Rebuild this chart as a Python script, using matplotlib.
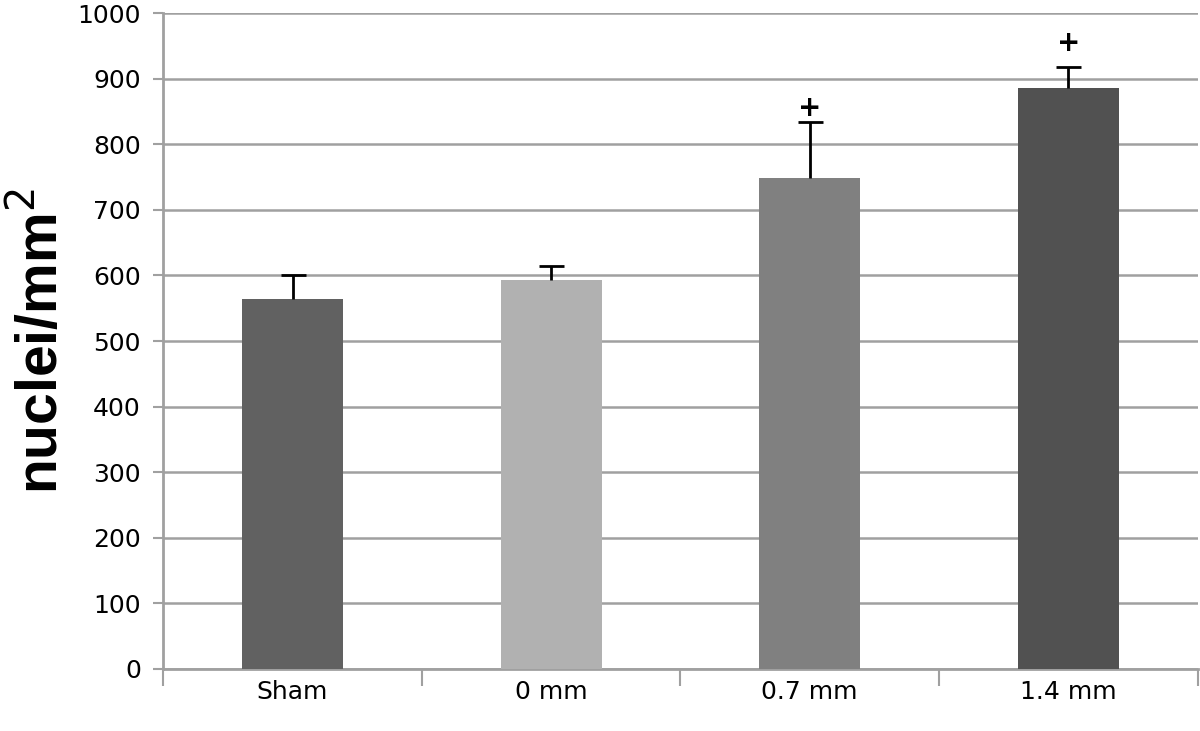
import numpy as np
import matplotlib.pyplot as plt

# datos
grupos = ["Sham", "0 mm", "0.7 mm", "1.4 mm"]
valores = [564, 593, 748, 886]
errores = [36, 21, 86, 32]
colores = ["#616161", "#b1b1b1", "#808080", "#515151"]
marcas = ["", "", "+", "+"]
altura_marca = [0, 0, 855, 955]

fig = plt.figure(figsize=(12, 7.31), dpi=100)
ax = fig.add_axes([0.136, 0.085, 0.862, 0.897])

x = np.arange(len(grupos))
ax.bar(x, valores, width=0.39, color=colores, zorder=3)
_, caps, _ = ax.errorbar(x, valores, yerr=[np.zeros(len(errores)), errores], fmt="none",
                         ecolor="black", elinewidth=2, capsize=9, capthick=2, zorder=4)
caps[0].set_visible(False)  # sin tapa inferior

# signos de significancia
for xi, h, m in zip(x, altura_marca, marcas):
    if m:
        ax.text(xi, h, m, ha="center", va="center", fontsize=20, fontweight="bold")

ax.set_ylim(0, 1000)
ax.set_xlim(-0.5, 3.5)
ax.set_yticks(np.arange(0, 1001, 100))
ax.yaxis.grid(True, color="#a0a0a0", linewidth=1.8, zorder=0)
ax.set_axisbelow(True)

# ticks mayores en los límites de categoría, etiquetas en los menores
ax.set_xticks(np.arange(-0.5, 4, 1))
ax.set_xticklabels([])
ax.set_xticks(x, minor=True)
ax.set_xticklabels(grupos, minor=True, fontsize=18, family=["Liberation Sans Narrow", "DejaVu Sans"])
ax.tick_params(axis="x", which="major", length=12, width=1.5, color="#a0a0a0", direction="out")
ax.tick_params(axis="x", which="minor", length=0, pad=8)
ax.tick_params(axis="y", length=7, width=1.5, color="#a0a0a0", labelsize=18, pad=9)

for lado in ["top", "right"]:
    ax.spines[lado].set_visible(False)
for lado in ["left", "bottom"]:
    ax.spines[lado].set_color("#a0a0a0")
    ax.spines[lado].set_linewidth(2)

ax.set_ylabel("nuclei/mm$^2$", fontsize=41, fontweight="bold", family="Liberation Sans", labelpad=6)

plt.savefig("out.png", dpi=100)
